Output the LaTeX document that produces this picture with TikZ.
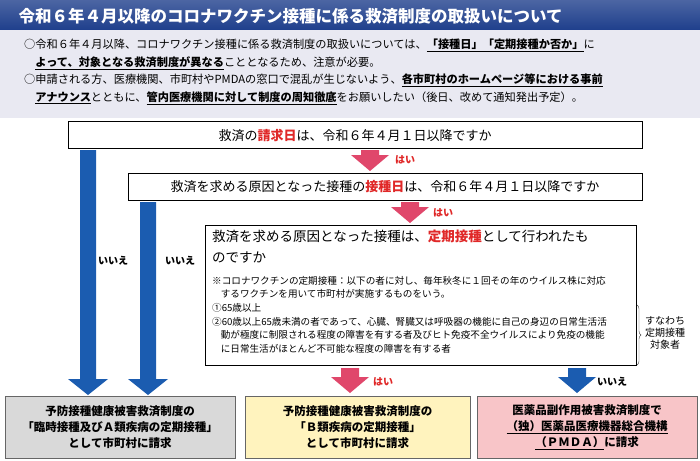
\documentclass[tikz,border=0pt]{standalone}
\usepackage{fontspec}
\setmainfont{Noto Sans CJK JP}
\usetikzlibrary{decorations.pathreplacing}
\definecolor{tblue}{HTML}{1F3F8C}
\definecolor{abluec}{HTML}{1B5CB0}
\definecolor{aredc}{HTML}{E0476B}
\definecolor{emred}{HTML}{E02828}
\definecolor{hdrbg}{HTML}{E9E9F2}
\definecolor{gbox}{HTML}{D9D9D9}
\definecolor{ybox}{HTML}{FFF3BE}
\definecolor{pbox}{HTML}{F8C5C8}
\tikzset{
 qbox/.style={draw=black,line width=0.8pt,fill=white},
 ans/.style={draw=black!60,line width=0.8pt,minimum width=#1,minimum height=62pt,align=center,font=\fontsize{11.5}{16}\selectfont\bfseries,inner sep=0pt},
 lab/.style={font=\fontsize{10}{12}\selectfont\bfseries},
}
\newcommand{\fatarr}[6]{% x, ytop, ybot, colour, shaft half, head half
 \fill[#4] (#1-#5,-#2) -- (#1+#5,-#2) -- (#1+#5,-#3+16) -- (#1+#6,-#3+16) -- (#1,-#3) -- (#1-#6,-#3+16) -- (#1-#5,-#3+16) -- cycle;}
\begin{document}
\begin{tikzpicture}[x=1pt,y=1pt]
\useasboundingbox (0,0) rectangle (700,-460);
\fill[white] (0,0) rectangle (700,-460);
\shade[top color=tblue!80,bottom color=tblue] (0,0) rectangle (700,-30);
\node[anchor=west,text=white,font=\fontsize{16.5}{18}\selectfont\bfseries] (title) at (15,-16) {令和６年４月以降のコロナワクチン接種に係る救済制度の取扱いについて};
\fill[hdrbg] (0,-30) rectangle (700,-118);
\node[anchor=north west,align=left,font=\fontsize{11.2}{17.5}\selectfont,inner sep=0pt] (intro) at (24,-39) {○令和６年４月以降、コロナワクチン接種に係る救済制度の取扱いについては、\textbf{\underline{「接種日」「定期接種か否か」}}に\\
\hspace*{1em}\textbf{\underline{よって、対象となる救済制度が異なる}}こととなるため、注意が必要。\\
○申請される方、医療機関、市町村やPMDAの窓口で混乱が生じないよう、\textbf{\underline{各市町村のホームページ等における事前}}\\
\hspace*{1em}\textbf{\underline{アナウンス}}とともに、\textbf{\underline{管内医療機関に対して制度の周知徹底}}をお願いしたい（後日、改めて通知発出予定）。};

% blue long arrows
\fatarr{88}{150}{395}{abluec}{8}{20}
\fatarr{148}{202}{395}{abluec}{8}{20}
\node[lab] (n1) at (113,-261) {いいえ};
\node[lab] (n2) at (180,-261) {いいえ};

\node[qbox,minimum width=574pt,minimum height=27pt,font=\fontsize{13}{15}\selectfont] (q1) at (355,-135) {救済の\textcolor{emred}{\bfseries 請求日}は、令和６年４月１日以降ですか};
\fatarr{370}{150}{171}{aredc}{9}{19}
\node[lab,text=emred] (y1) at (405,-160) {はい};
\node[qbox,minimum width=514pt,minimum height=27pt,font=\fontsize{13}{15}\selectfont] (q2) at (385,-187) {救済を求める原因となった接種の\textcolor{emred}{\bfseries 接種日}は、令和６年４月１日以降ですか};
\fatarr{410}{202}{223}{aredc}{9}{19}
\node[lab,text=emred] (y2) at (443,-213) {はい};
\draw[qbox] (205,-225) rectangle (636,-365);
\node[anchor=north west,align=left,font=\fontsize{13.5}{21}\selectfont,inner sep=0pt] (q3) at (212,-230) {救済を求める原因となった接種は、\textcolor{emred}{\bfseries 定期接種}として行われたも\\のですか};
\node[anchor=north west,align=left,font=\fontsize{9.6}{13.6}\selectfont,inner sep=0pt] (note) at (212,-276) {※コロナワクチンの定期接種：以下の者に対し、毎年秋冬に１回その年のウイルス株に対応\\
\hspace*{0.9em}するワクチンを用いて市町村が実施するものをいう。\\
①65歳以上\\
②60歳以上65歳未満の者であって、心臓、腎臓又は呼吸器の機能に自己の身辺の日常生活活\\
\hspace*{0.9em}動が極度に制限される程度の障害を有する者及びヒト免疫不全ウイルスにより免疫の機能\\
\hspace*{0.9em}に日常生活がほとんど不可能な程度の障害を有する者};
\draw[decorate,decoration={brace,amplitude=4pt},black!70] (637,-305) -- (637,-365);
\node[align=center,font=\fontsize{10}{12}\selectfont] (sn) at (665,-333) {すなわち\\定期接種\\対象者};

\fatarr{350}{368}{393}{aredc}{9}{19}
\node[lab,text=emred] (y3) at (383,-382) {はい};
\fatarr{577}{368}{393}{abluec}{9}{19}
\node[lab] (n3) at (612,-382) {いいえ};

\node[ans=230pt,fill=gbox] (a1) at (120,-427) {予防接種健康被害救済制度の\\「臨時接種及びＡ類疾病の定期接種」\\として市町村に請求};
\node[ans=225pt,fill=ybox] (a2) at (357.5,-427) {予防接種健康被害救済制度の\\「Ｂ類疾病の定期接種」\\として市町村に請求};
\node[ans=220pt,fill=pbox] (a3) at (587,-427) {医薬品副作用被害救済制度で\\\underline{（独）医薬品医療機器総合機構}\\\underline{（ＰＭＤＡ）}に請求};
\end{tikzpicture}
\end{document}
